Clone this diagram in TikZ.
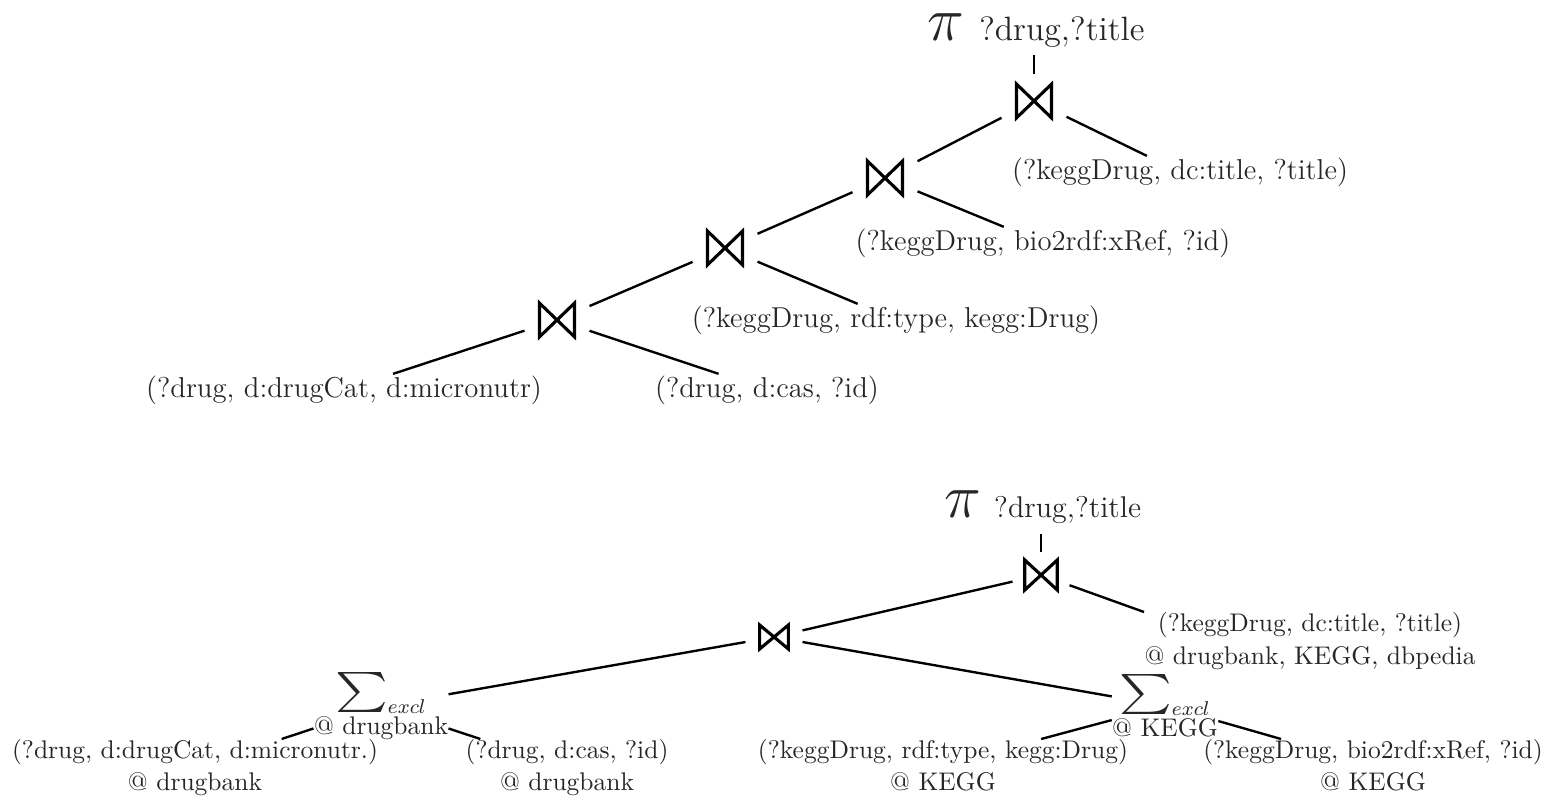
\documentclass[tikz,border=0pt]{standalone}
\usepackage{graphicx}
\tikzset{
  every node/.style={text=black!85},
  lnk/.style={line width=0.95pt, black},
  leafT/.style={inner xsep=2pt, inner ysep=0.5pt, font=\fontsize{11.5}{13}\selectfont},
  leafB/.style={inner sep=0pt, align=center, font=\fontsize{10.2}{12.8}\selectfont},
  bowtie/.style n args={4}{rectangle, inner sep=0pt, minimum width=#1, minimum height=#2,
    path picture={\draw[line width=1.25pt, black]
      ([shift={(-#3/2,-#4/2)}]path picture bounding box.center) -- ++(0pt,#4) -- ++(#3,-#4) -- ++(0pt,#4) -- cycle;}},
}
\newcommand{\sigexcl}{$\scalebox{2.0}[1.6]{$\sum$}_{\mbox{\fontsize{8.5}{9}\selectfont$excl$}}$}
\begin{document}
\begin{tikzpicture}[x=0.4pt,y=-0.4pt]
\useasboundingbox (0,0) rectangle (1563,797);
% ---------- top tree ----------
\node[anchor=base, inner ysep=2.6pt] (piT) at (1036,41)
  {{\fontsize{27}{27}\selectfont$\pi$}\hspace{6pt}{\fontsize{13.5}{15}\selectfont ?drug,?title}};
\node[bowtie={25.6pt}{20.8pt}{14pt}{13.5pt}] (j1) at (1034,101) {};
\node[leafT] (l1) at (1180,172) {(?keggDrug, dc:title, ?title)};
\node[bowtie={25.6pt}{20.8pt}{14pt}{13.5pt}] (j2) at (885,178) {};
\node[leafT] (l2) at (1043,243) {(?keggDrug, bio2rdf:xRef, ?id)};
\node[bowtie={25.6pt}{20.8pt}{14pt}{13.5pt}] (j3) at (725,248) {};
\node[leafT] (l3) at (896,320) {(?keggDrug, rdf:type, kegg:Drug)};
\node[bowtie={25.6pt}{20.8pt}{14pt}{13.5pt}] (j4) at (557,320) {};
\node[leafT] (l4) at (344,390) {(?drug, d:drugCat, d:micronutr)};
\node[leafT] (l5) at (767,390) {(?drug, d:cas, ?id)};
\draw[lnk] (j1) -- (j1 |- piT.south);
\draw[lnk] (j1) -- (l1);
\draw[lnk] (j1) -- (j2);
\draw[lnk] (j2) -- (l2);
\draw[lnk] (j2) -- (j3);
\draw[lnk] (j3) -- (l3);
\draw[lnk] (j3) -- (j4);
\draw[lnk] (j4) -- (l4);
\draw[lnk] (j4) -- (l5);
% ---------- bottom tree ----------
\node[anchor=base, inner ysep=3.6pt] (piB) at (1043,518)
  {{\fontsize{23}{23}\selectfont$\pi$}\hspace{5pt}{\fontsize{12}{14}\selectfont ?drug,?title}};
\node[bowtie={22.4pt}{18.4pt}{13pt}{12pt}] (jA) at (1041,575) {};
\node[leafB, anchor=north, font=\fontsize{10.2}{13.2}\selectfont] (lA) at (1310,612)
  {(?keggDrug, dc:title, ?title)\\@ drugbank, KEGG, dbpedia};
\node[bowtie={22.4pt}{16pt}{11.5pt}{9.6pt}] (jB) at (774,637) {};
\node[leafB, anchor=north] (sL) at (381,672) {\sigexcl\\@ drugbank};
\node[leafB, anchor=north] (sR) at (1165,674) {\sigexcl\\@ KEGG};
\node[leafB, anchor=north] (lL1) at (195,739) {(?drug, d:drugCat, d:micronutr.)\\@ drugbank};
\node[leafB, anchor=north] (lL2) at (567,739) {(?drug, d:cas, ?id)\\@ drugbank};
\node[leafB, anchor=north] (lR1) at (943,739) {(?keggDrug, rdf:type, kegg:Drug)\\@ KEGG};
\node[leafB, anchor=north] (lR2) at (1373,739) {(?keggDrug, bio2rdf:xRef, ?id)\\@ KEGG};
\draw[lnk] (jA) -- (jA |- piB.south);
\draw[lnk] (jA) -- (lA.north west);
\draw[lnk] (jA) -- (jB);
\draw[lnk] (jB) -- (sL);
\draw[lnk] (jB) -- (sR);
\draw[lnk] (sL) -- (lL1);
\draw[lnk] (sL) -- (lL2);
\draw[lnk] (sR) -- (lR1);
\draw[lnk] (sR) -- (lR2);
\end{tikzpicture}
\end{document}
